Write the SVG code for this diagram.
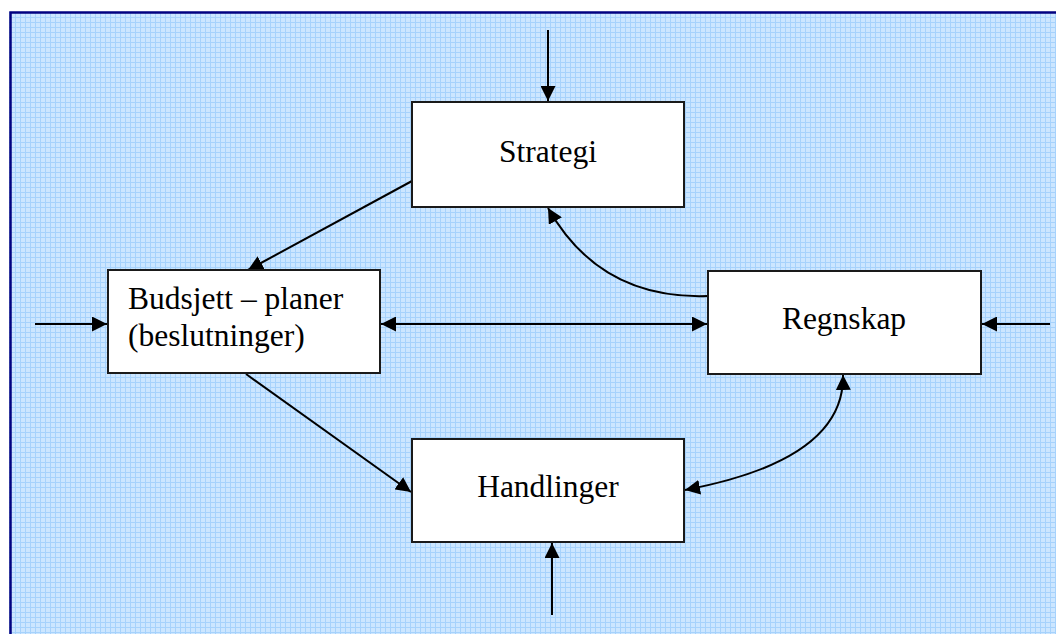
<svg xmlns="http://www.w3.org/2000/svg" width="1056" height="634" viewBox="0 0 1056 634">
<style>
.box{fill:#fff;stroke:#1a1a1a;stroke-width:2}
.lbl{font-family:"Liberation Serif","Times New Roman",serif;font-size:31.5px;fill:#000}
.con{fill:none;stroke:#000;stroke-width:2}
</style>
<defs>
<pattern id="grid" x="10" y="12" width="5" height="5" patternUnits="userSpaceOnUse">
<rect width="5" height="5" fill="#cce6ff"/>
<path d="M0 0.5H5M0.5 0V5" stroke="#a6d2fc" stroke-width="1"/>
</pattern>
<marker id="ah" viewBox="0 0 15 15" refX="15" refY="7.5" markerWidth="15" markerHeight="15" markerUnits="userSpaceOnUse" orient="auto-start-reverse">
<path d="M0 0L15 7.5L0 15Z" fill="#000"/>
</marker>
</defs>
<rect width="1056" height="634" fill="#fff"/>
<rect x="9" y="12" width="1047" height="622" fill="url(#grid)"/>
<path d="M10.5 634V12.5H1056" fill="none" stroke="#000080" stroke-width="2.5"/>
<g id="connectors">
<line class="con" x1="548" y1="30" x2="548" y2="101" marker-end="url(#ah)"/>
<line class="con" x1="35" y1="324" x2="107" y2="324" marker-end="url(#ah)"/>
<line class="con" x1="1050" y1="324" x2="982" y2="324" marker-end="url(#ah)"/>
<line class="con" x1="381" y1="324" x2="707" y2="324" marker-start="url(#ah)" marker-end="url(#ah)"/>
<line class="con" x1="552" y1="615" x2="552" y2="543" marker-end="url(#ah)"/>
<line class="con" x1="412" y1="181" x2="248" y2="270" marker-end="url(#ah)"/>
<line class="con" x1="246" y1="374" x2="411" y2="492" marker-end="url(#ah)"/>
<path class="con" d="M708 296Q600 300 548 208" marker-end="url(#ah)"/>
<path class="con" d="M843 375Q845 460 685 490" marker-start="url(#ah)" marker-end="url(#ah)"/>
</g>
<g id="strategi">
<rect class="box" x="412" y="102" width="272" height="105"/>
<text class="lbl" x="548" y="162" text-anchor="middle">Strategi</text>
</g>
<g id="budsjett">
<rect class="box" x="108" y="270" width="272" height="103"/>
<text class="lbl" x="128" y="309">Budsjett – planer</text>
<text class="lbl" x="128" y="346">(beslutninger)</text>
</g>
<g id="regnskap">
<rect class="box" x="708" y="271" width="273" height="103"/>
<text class="lbl" x="844" y="329" text-anchor="middle">Regnskap</text>
</g>
<g id="handlinger">
<rect class="box" x="412" y="439" width="272" height="103"/>
<text class="lbl" x="548" y="497" text-anchor="middle">Handlinger</text>
</g>
</svg>
